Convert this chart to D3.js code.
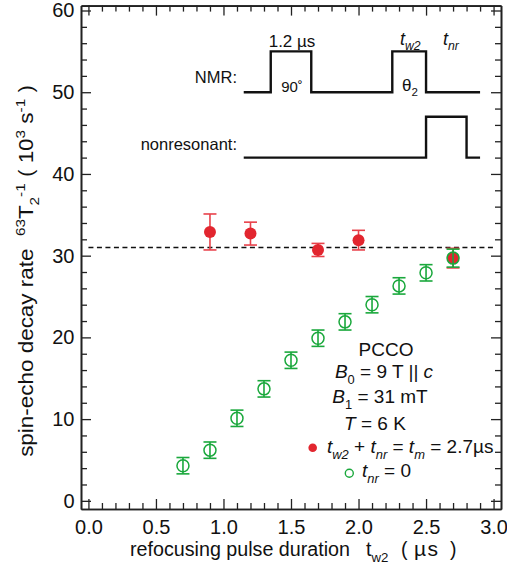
<!DOCTYPE html>
<html>
<head>
<meta charset="utf-8">
<script src="https://cdn.jsdelivr.net/npm/d3@7"></script>
<style>
  body { margin: 0; background: #fff; }
  svg { display: block; font-family: "Liberation Sans", Arial, Helvetica, sans-serif; fill: #111; }
  .axis path, .axis line { stroke: #222; }
  .axis path { stroke-width: 1.6; }
  .axis line { stroke-width: 1.3; }
  .axis text { font-size: 20px; fill: #111; font-family: "Liberation Sans", Arial, sans-serif; }
</style>
</head>
<body>
<div id="chart"></div>
<script>
// data
var xMajor = [0.0, 0.5, 1.0, 1.5, 2.0, 2.5, 3.0];
var yMajor = [0, 10, 20, 30, 40, 50, 60];

var redX   = [0.9, 1.2, 1.7, 2.0, 2.7];
var redY   = [32.9, 32.7, 30.7, 31.9, 29.7];
var redErr = [2.2, 1.4, 0.8, 1.2, 1.2];

var greenX   = [0.7, 0.9, 1.1, 1.3, 1.5, 1.7, 1.9, 2.1, 2.3, 2.5, 2.7];
var greenY   = [4.3, 6.2, 10.1, 13.7, 17.2, 19.9, 21.9, 24.0, 26.3, 27.9, 29.7];
var greenErr = [1.0, 1.0, 1.0, 1.0, 1.0, 1.0, 1.0, 1.0, 1.0, 1.0, 1.1];

var refLevel = 31;

// pulse sketch, in data units
var nmrX = [1.15, 1.35, 1.35, 1.65, 1.65, 2.25, 2.25, 2.5, 2.5, 2.9];
var nmrY = [50, 50, 55, 55, 50, 50, 55, 55, 50, 50];
var nrX  = [1.15, 2.5, 2.5, 2.8, 2.8, 2.9];
var nrY  = [42, 42, 47, 47, 42, 42];

var width = 507,
    height = 566,
    red = '#e2262f',
    green = '#1aa83c';

var svg = d3.select('#chart')
    .append('svg')
    .attr('width', width)
    .attr('height', height);

var x = d3.scaleLinear().domain([-0.055, 3.055]).range([81, 501]);
var y = d3.scaleLinear().domain([-1, 60.6]).range([509, 5.6]);

var xMinor = d3.range(0, 3.05, 0.1).filter(v => Math.abs(v * 2 - Math.round(v * 2)) > 1e-6);
var yMinor = d3.range(0, 61, 2).filter(v => v % 10 !== 0);

// axes: ticks pointing in on all four sides
function addAxis(axis, tr) {
    return svg.append('g').attr('class', 'axis').attr('transform', tr).call(axis);
}
addAxis(d3.axisBottom(x).tickValues(xMinor).tickSize(-6).tickSizeOuter(0).tickFormat(''), 'translate(0,509)');
addAxis(d3.axisBottom(x).tickValues(xMajor).tickSize(-10).tickSizeOuter(0).tickPadding(11).tickFormat(d3.format('.1f')), 'translate(0,509)');
addAxis(d3.axisTop(x).tickValues(xMinor).tickSize(-6).tickSizeOuter(0).tickFormat(''), 'translate(0,5.6)');
addAxis(d3.axisTop(x).tickValues(xMajor).tickSize(-10).tickSizeOuter(0).tickFormat(''), 'translate(0,5.6)');
addAxis(d3.axisLeft(y).tickValues(yMinor).tickSize(-6).tickSizeOuter(0).tickFormat(''), 'translate(81,0)');
addAxis(d3.axisLeft(y).tickValues(yMajor).tickSize(-10).tickSizeOuter(0).tickPadding(6.5).tickFormat(d3.format('d')), 'translate(81,0)');
addAxis(d3.axisRight(y).tickValues(yMinor).tickSize(-6).tickSizeOuter(0).tickFormat(''), 'translate(501,0)');
addAxis(d3.axisRight(y).tickValues(yMajor).tickSize(-10).tickSizeOuter(0).tickFormat(''), 'translate(501,0)');

// text with sub/superscripts
function rich(sel, parts, size) {
    var shift = 0;
    parts.forEach(p => {
        var off = p.s === 'sup' ? -0.42 * size : p.s === 'sub' ? 0.3 * size : 0;
        sel.append('tspan')
            .attr('dy', off - shift)
            .attr('font-size', p.s ? size * 0.68 : size)
            .style('font-style', p.i ? 'italic' : null)
            .style('white-space', 'pre')
            .text(p.t);
        shift = off;
    });
    return sel;
}

// x axis title
svg.append('text')
    .attr('x', 130).attr('y', 556)
    .attr('font-size', 19.5)
    .attr('textLength', 220)
    .attr('lengthAdjust', 'spacingAndGlyphs')
    .text('refocusing pulse duration');
rich(svg.append('text').attr('x', 366).attr('y', 556), [
    {t: 't'}, {t: 'w2', s: 'sub'}
], 19.5);
svg.append('text').attr('x', 401).attr('y', 556).attr('font-size', 19.5).text('(');
svg.append('text').attr('x', 414).attr('y', 556).attr('font-size', 21)
    .attr('letter-spacing', 1.5).text('\u00b5s');
svg.append('text').attr('x', 450).attr('y', 556).attr('font-size', 19.5).text(')');

// y axis title, stretched along its length as in the original
var yTitle = rich(svg.append('text')
    .attr('text-anchor', 'middle'), [
        {t: 'spin-echo decay rate  '},
        {t: '63', s: 'sup'},
        {t: 'T'},
        {t: '2', s: 'sub'},
        {t: '-1', s: 'sup'},
        {t: ' ( 10'},
        {t: '3', s: 'sup'},
        {t: ' s'},
        {t: '-1', s: 'sup'},
        {t: ' )'}
    ], 19.5);
var yLen = yTitle.node().getBBox().width;
yTitle.attr('transform', 'translate(33,271)rotate(-90)scale(' + (372 / yLen) + ',1)');

// dashed reference level
svg.append('line')
    .attr('x1', x(0)).attr('x2', x(3))
    .attr('y1', y(refLevel)).attr('y2', y(refLevel))
    .attr('stroke', '#111')
    .attr('stroke-width', 1.3)
    .attr('stroke-dasharray', '5,3.5');

// pulse sketch
var step = d3.line().x(d => x(d[0])).y(d => y(d[1]));
[[nmrX, nmrY], [nrX, nrY]].forEach(s => {
    svg.append('path')
        .attr('d', step(d3.zip(s[0], s[1])))
        .attr('fill', 'none')
        .attr('stroke', '#111')
        .attr('stroke-width', 2.4)
        .attr('stroke-linejoin', 'miter');
});

svg.append('text').attr('x', 237).attr('y', 83).attr('text-anchor', 'end')
    .attr('font-size', 16.5).text('NMR:');
svg.append('text').attr('x', 237).attr('y', 150).attr('text-anchor', 'end')
    .attr('font-size', 16.5).text('nonresonant:');
svg.append('text').attr('x', 292).attr('y', 47).attr('text-anchor', 'middle')
    .attr('font-size', 17).text('1.2 \u00b5s');
svg.append('text').attr('x', 292).attr('y', 92).attr('text-anchor', 'middle')
    .attr('font-size', 15).text('90\u02da');
rich(svg.append('text').attr('x', 402).attr('y', 91), [
    {t: '\u03b8'}, {t: '2', s: 'sub'}
], 17);
rich(svg.append('text').attr('x', 400).attr('y', 45), [
    {t: 't', i: true}, {t: 'w2', s: 'sub', i: true}
], 18);
rich(svg.append('text').attr('x', 443).attr('y', 45), [
    {t: 't', i: true}, {t: 'nr', s: 'sub', i: true}
], 18);

// series
function errorBars(xs, ys, es, color) {
    var g = svg.append('g').attr('stroke', color).attr('stroke-width', 1.6);
    var pts = d3.zip(xs, ys, es);
    g.selectAll('.v').data(pts).enter().append('line')
        .attr('x1', d => x(d[0])).attr('x2', d => x(d[0]))
        .attr('y1', d => y(d[1] - d[2])).attr('y2', d => y(d[1] + d[2]));
    [-1, 1].forEach(sgn => {
        g.selectAll('.c' + sgn).data(pts).enter().append('line')
            .attr('x1', d => x(d[0]) - 6.5).attr('x2', d => x(d[0]) + 6.5)
            .attr('y1', d => y(d[1] + sgn * d[2])).attr('y2', d => y(d[1] + sgn * d[2]));
    });
}

errorBars(redX, redY, redErr, '#e8414a');
svg.append('g').selectAll('circle')
    .data(d3.zip(redX, redY))
    .enter()
    .append('circle')
    .attr('cx', d => x(d[0]))
    .attr('cy', d => y(d[1]))
    .attr('r', 6)
    .attr('fill', red);

errorBars(greenX, greenY, greenErr, green);
svg.append('g').selectAll('circle')
    .data(d3.zip(greenX, greenY))
    .enter()
    .append('circle')
    .attr('cx', d => x(d[0]))
    .attr('cy', d => y(d[1]))
    .attr('r', 6)
    .attr('fill', 'none')
    .attr('stroke', green)
    .attr('stroke-width', 1.5);

// legend / sample info
var fs = 19;
svg.append('text').attr('x', 386).attr('y', 356).attr('text-anchor', 'middle')
    .attr('font-size', fs).text('PCCO');
rich(svg.append('text').attr('x', 384).attr('y', 378).attr('text-anchor', 'middle').attr('font-size', fs), [
    {t: 'B', i: true}, {t: '0', s: 'sub'}, {t: ' = 9 T || '}, {t: 'c', i: true}
], fs);
rich(svg.append('text').attr('x', 380).attr('y', 403).attr('text-anchor', 'middle').attr('font-size', fs), [
    {t: 'B', i: true}, {t: '1', s: 'sub'}, {t: ' = 31 mT'}
], fs);
rich(svg.append('text').attr('x', 375).attr('y', 430).attr('text-anchor', 'middle').attr('font-size', fs), [
    {t: 'T', i: true}, {t: ' = 6 K'}
], fs);

svg.append('circle').attr('cx', 312.7).attr('cy', 447.7).attr('r', 4.3).attr('fill', red);
rich(svg.append('text').attr('x', 327).attr('y', 453).attr('font-size', fs), [
    {t: 't', i: true}, {t: 'w2', s: 'sub', i: true}, {t: ' + '},
    {t: 't', i: true}, {t: 'nr', s: 'sub', i: true}, {t: ' = '},
    {t: 't', i: true}, {t: 'm', s: 'sub', i: true}, {t: ' = 2.7\u00b5s'}
], fs);

svg.append('circle').attr('cx', 349.3).attr('cy', 473.3).attr('r', 4)
    .attr('fill', 'none').attr('stroke', green).attr('stroke-width', 1.4);
rich(svg.append('text').attr('x', 362).attr('y', 477).attr('font-size', fs), [
    {t: 't', i: true}, {t: 'nr', s: 'sub', i: true}, {t: ' = 0'}
], fs);
</script>
</body>
</html>
